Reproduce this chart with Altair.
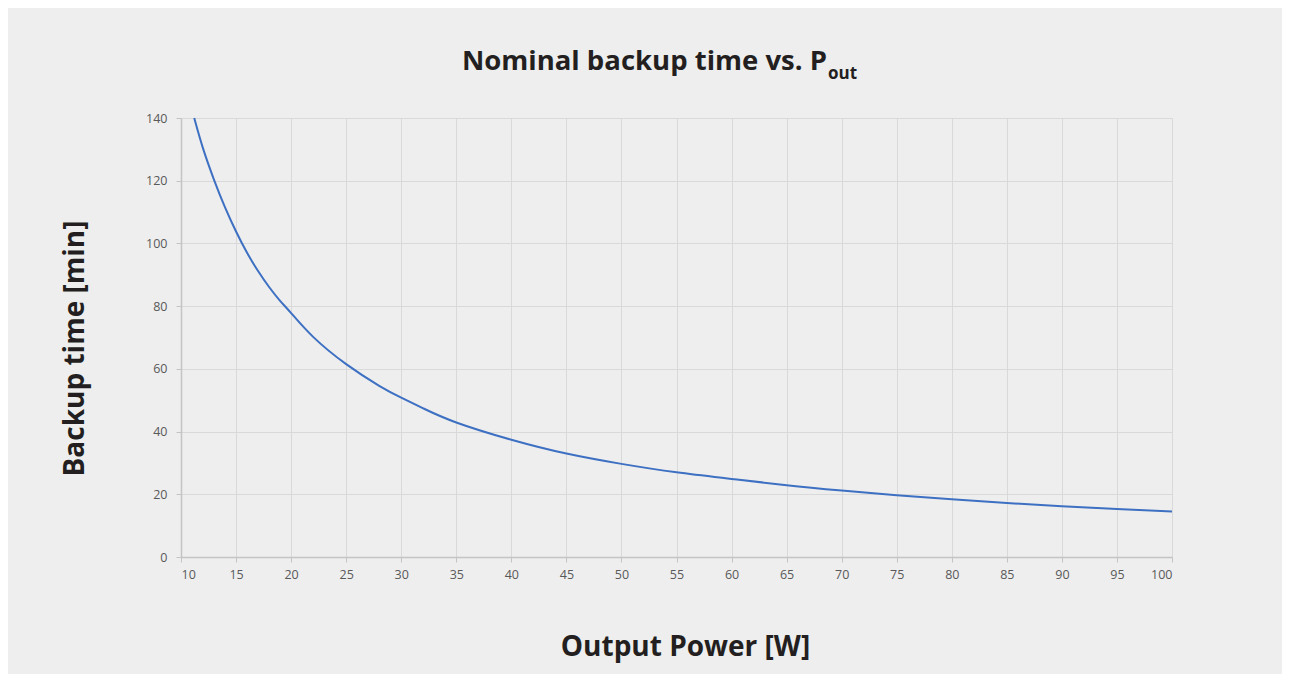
import altair as alt
import pandas as pd

# Data
power_w = [11.2, 12, 13, 14, 15, 16, 17, 18, 19, 20, 22, 25, 28, 30, 32, 35, 40, 45,
           50, 55, 60, 65, 70, 75, 80, 85, 90, 95, 100]
backup_min = [140, 130.3, 120.3, 111.5, 103.8, 97.0, 91.2, 86.1, 81.7, 77.8, 70.2, 61.5,
              54.6, 50.8, 47.4, 42.9, 37.4, 33.0, 29.7, 27.0, 24.9, 22.9, 21.2, 19.7,
              18.4, 17.2, 16.2, 15.3, 14.5]
x_ticks = list(range(10, 101, 5))
y_ticks = list(range(0, 141, 20))
title_main = ["Nominal backup time vs. P"]
title_sub = ["out"]

df = pd.DataFrame({"power": power_w, "backup": backup_min})

FONT = "Open Sans"
LABEL_FONT = "Open Sans"
BG = "#eeeeee"

line = alt.Chart(df).mark_line(color="#3d70c2", strokeWidth=2, interpolate="natural").encode(
    x=alt.X("power:Q",
            scale=alt.Scale(domain=[10, 100], nice=False, zero=False),
            axis=alt.Axis(values=x_ticks, title="Output Power [W]",
                          titleX=504, titleY=98, titleBaseline="alphabetic",
                          titleAlign="center")),
    y=alt.Y("backup:Q",
            scale=alt.Scale(domain=[0, 140], nice=False),
            axis=alt.Axis(values=y_ticks, title="Backup time [min]",
                          titleX=-98, titleY=230, titleAngle=270,
                          titleBaseline="alphabetic", titleAlign="center")),
)

t_main = alt.Chart(pd.DataFrame({"t": title_main})).mark_text(
    font=FONT, fontWeight="bold", fontSize=27.5, color="#231f20",
    align="right", baseline="alphabetic"
).encode(x=alt.value(646), y=alt.value(-48), text="t:N")

t_sub = alt.Chart(pd.DataFrame({"t": title_sub})).mark_text(
    font=FONT, fontWeight="bold", fontSize=17, color="#231f20",
    align="left", baseline="alphabetic"
).encode(x=alt.value(647), y=alt.value(-39), text="t:N")

chart = alt.layer(line, t_main, t_sub).properties(
    width=991, height=439,
    padding={"left": 173, "top": 110, "right": 110, "bottom": 117},
    autosize=alt.AutoSizeParams(type="none"),
    background=BG,
).configure_view(stroke=None).configure_axis(
    labelFont=LABEL_FONT, labelFontSize=12.5, labelColor="#595959",
    titleFont=FONT, titleFontSize=28, titleFontWeight="bold", titleColor="#231f20",
    gridColor="#d9d9d9", gridWidth=1,
    domainColor="#c4c4c4", domainWidth=1.5,
    tickColor="#c4c4c4", tickSize=5, labelPadding=6,
).configure_axisY(labelPadding=9)

chart.save("out.html", embed_options={"renderer": "svg", "actions": False})
